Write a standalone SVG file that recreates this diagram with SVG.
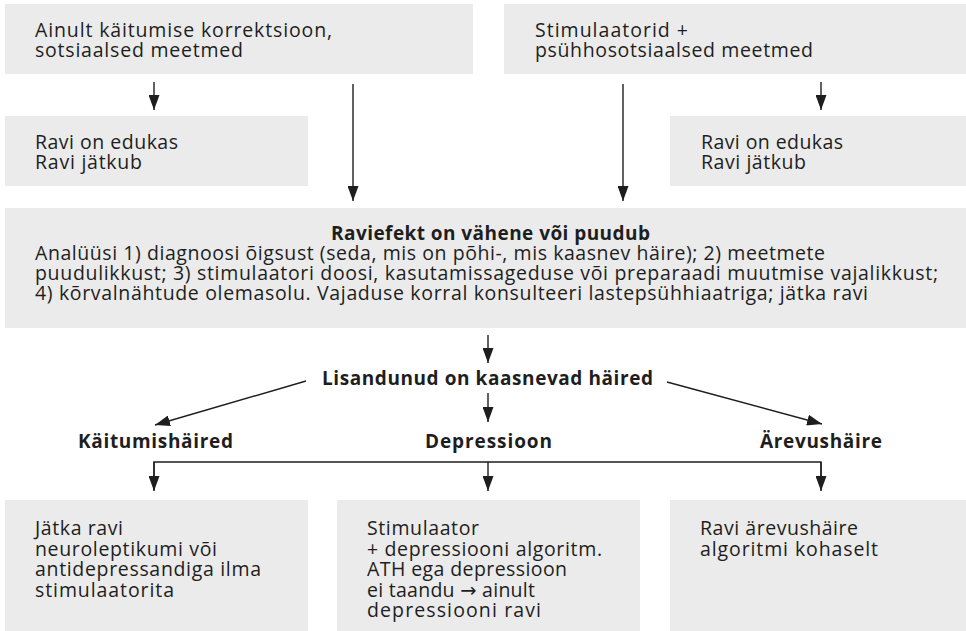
<svg xmlns="http://www.w3.org/2000/svg" width="966" height="631" viewBox="0 0 966 631">
<style>
.box{fill:#ebebeb;}
text{font-family:"Open Sans","Noto Sans","DejaVu Sans",sans-serif;font-size:19.5px;fill:#1e1e1e;}
.b{font-weight:700;font-size:19px;}
.ln{stroke:#1e1e1e;stroke-width:1.4;fill:none;}
.ar{marker-end:url(#ah);}
</style>
<defs>
<marker id="ah" viewBox="0 0 15 11" refX="15" refY="5.5" markerWidth="15" markerHeight="11" orient="auto" markerUnits="userSpaceOnUse">
<path d="M0,0 L15,5.5 L0,11 z" fill="#1e1e1e"/>
</marker>
</defs>

<g id="n1">
<rect class="box" x="5" y="4" width="468" height="70"/>
<text x="35" y="37" textLength="297">Ainult käitumise korrektsioon,</text>
<text x="35" y="57" textLength="208">sotsiaalsed meetmed</text>
</g>
<g id="n2">
<rect class="box" x="504" y="4" width="462" height="70"/>
<text x="535" y="37" textLength="153">Stimulaatorid +</text>
<text x="535" y="57" textLength="278">psühhosotsiaalsed meetmed</text>
</g>
<g id="n3">
<rect class="box" x="5" y="116" width="303" height="70"/>
<text x="35" y="149" textLength="143">Ravi on edukas</text>
<text x="35" y="169" textLength="107">Ravi jätkub</text>
</g>
<g id="n4">
<rect class="box" x="670" y="116" width="296" height="70"/>
<text x="701" y="149" textLength="142">Ravi on edukas</text>
<text x="701" y="169" textLength="105">Ravi jätkub</text>
</g>
<g id="n5">
<rect class="box" x="5" y="208" width="961" height="120"/>
<text class="b" x="331" y="240" textLength="319">Raviefekt on vähene või puudub</text>
<text x="35" y="260" textLength="790">Analüüsi 1) diagnoosi õigsust (seda, mis on põhi-, mis kaasnev häire); 2) meetmete</text>
<text x="35" y="280" textLength="903">puudulikkust; 3) stimulaatori doosi, kasutamissageduse või preparaadi muutmise vajalikkust;</text>
<text x="35" y="300" textLength="833">4) kõrvalnähtude olemasolu. Vajaduse korral konsulteeri lastepsühhiaatriga; jätka ravi</text>
</g>
<g id="n6">
<text class="b" x="322" y="385" textLength="331">Lisandunud on kaasnevad häired</text>
</g>
<g id="n7">
<text class="b" x="78" y="448" textLength="155">Käitumishäired</text>
</g>
<g id="n8">
<text class="b" x="425" y="448" textLength="127">Depressioon</text>
</g>
<g id="n9">
<text class="b" x="760" y="448" textLength="122">Ärevushäire</text>
</g>
<g id="n10">
<rect class="box" x="5" y="500" width="303" height="131"/>
<text x="35" y="535" textLength="88">Jätka ravi</text>
<text x="35" y="556" textLength="182">neuroleptikumi või</text>
<text x="35" y="576" textLength="226">antidepressandiga ilma</text>
<text x="35" y="597" textLength="139">stimulaatorita</text>
</g>
<g id="n11">
<rect class="box" x="337" y="500" width="303" height="131"/>
<text x="367" y="535" textLength="112">Stimulaator</text>
<text x="367" y="556" textLength="235">+ depressiooni algoritm.</text>
<text x="367" y="576" textLength="200">ATH ega depressioon</text>
<text x="367" y="597" textLength="168">ei taandu → ainult</text>
<text x="367" y="617" textLength="174">depressiooni ravi</text>
</g>
<g id="n12">
<rect class="box" x="670" y="500" width="296" height="131"/>
<text x="700" y="535" textLength="158">Ravi ärevushäire</text>
<text x="700" y="556" textLength="178">algoritmi kohaselt</text>
</g>

<g id="connectors">
<line class="ln ar" x1="154" y1="82" x2="154" y2="110"/>
<line class="ln ar" x1="353" y1="84" x2="353" y2="201"/>
<line class="ln ar" x1="623" y1="84" x2="623" y2="201"/>
<line class="ln ar" x1="821" y1="82" x2="821" y2="110"/>
<line class="ln ar" x1="488" y1="335" x2="488" y2="363"/>
<line class="ln ar" x1="306" y1="381" x2="155" y2="425"/>
<line class="ln ar" x1="488" y1="393" x2="488" y2="422"/>
<line class="ln ar" x1="667" y1="382" x2="822" y2="424"/>
<polyline class="ln" points="154,490 154,462 821,462 821,490"/>
<line class="ln ar" x1="154" y1="462" x2="154" y2="491"/>
<line class="ln ar" x1="488" y1="462" x2="488" y2="491"/>
<line class="ln ar" x1="821" y1="462" x2="821" y2="491"/>
</g>
</svg>
